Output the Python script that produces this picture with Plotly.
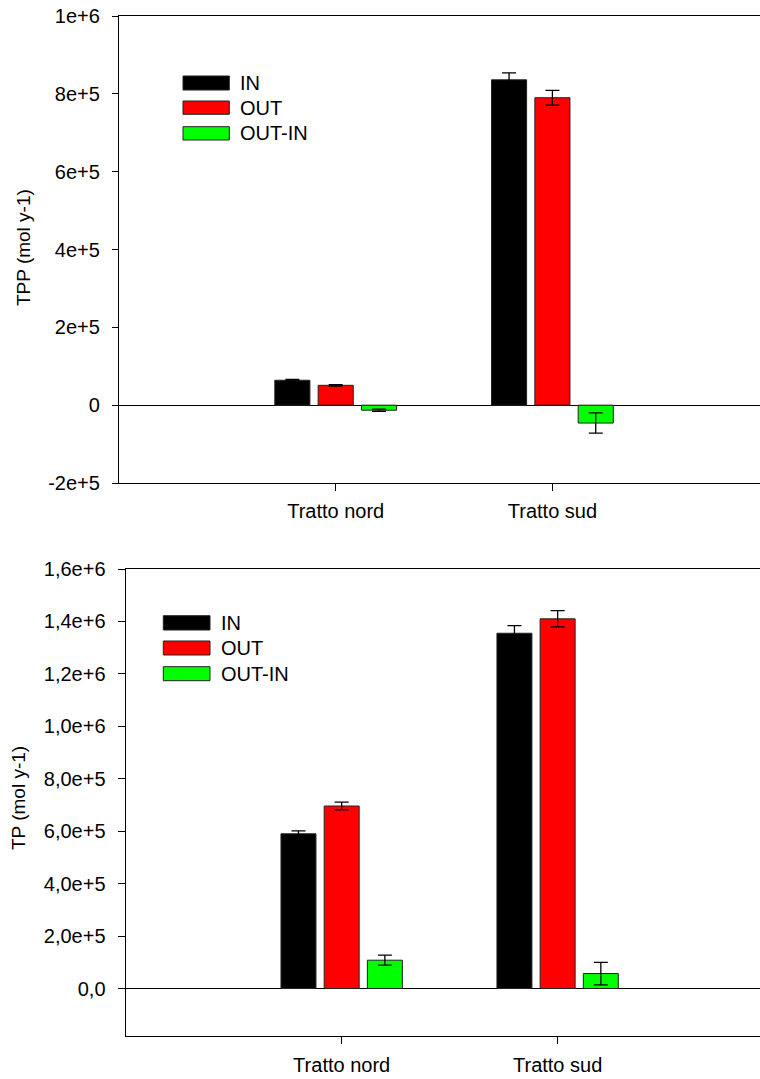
import plotly.graph_objects as go

# ---------------- data ----------------
categories = ["Tratto nord", "Tratto sud"]
series_names = ["IN", "OUT", "OUT-IN"]
series_colors = ["#000000", "#FF0000", "#00FF00"]

# Top panel: TPP (mol y-1)
tpp_in = [64000, 836000]
tpp_in_err = [2000, 18000]
tpp_out = [51000, 790000]
tpp_out_err = [2000, 19000]
tpp_diff = [-13000, -46000]
tpp_diff_err = [3000, 26000]

# Bottom panel: TP (mol y-1)
tp_in = [590000, 1355000]
tp_in_err = [11000, 29000]
tp_out = [696000, 1410000]
tp_out_err = [15000, 31000]
tp_diff = [108000, 57000]
tp_diff_err = [19000, 43000]

top_tickvals = [-200000, 0, 200000, 400000, 600000, 800000, 1000000]
top_ticktext = ["-2e+5", "0", "2e+5", "4e+5", "6e+5", "8e+5", "1e+6"]
bot_tickvals = [0, 200000, 400000, 600000, 800000, 1000000, 1200000, 1400000, 1600000]
bot_ticktext = ["0,0", "2,0e+5", "4,0e+5", "6,0e+5", "8,0e+5", "1,0e+6", "1,2e+6", "1,4e+6", "1,6e+6"]

top_title = "TPP (mol y-1)"
bot_title = "TP (mol y-1)"

# ---------------- figure ----------------
W, H = 760, 1079
FONT = "Liberation Sans, Arial, sans-serif"

def px(x):
    return x / W

def py(y):
    return 1 - y / H

fig = go.Figure()

top_sets = [(tpp_in, tpp_in_err), (tpp_out, tpp_out_err), (tpp_diff, tpp_diff_err)]
bot_sets = [(tp_in, tp_in_err), (tp_out, tp_out_err), (tp_diff, tp_diff_err)]

for sets, xa, ya in [(top_sets, "x", "y"), (bot_sets, "x2", "y2")]:
    for (vals, errs), name, col in zip(sets, series_names, series_colors):
        fig.add_trace(go.Bar(
            x=categories, y=vals, name=name, xaxis=xa, yaxis=ya,
            marker=dict(color=col, line=dict(color="#222222", width=1)),
            error_y=dict(type="data", array=errs, visible=True,
                         color="#000000", thickness=1.3, width=7),
            showlegend=False,
        ))

axis_common = dict(
    showline=True, linecolor="black", linewidth=1.3,
    ticks="outside", tickcolor="black", tickwidth=1.3,
    showgrid=False, automargin=False,
    tickfont=dict(family=FONT, size=20, color="black"),
)

fig.update_layout(
    width=W, height=H,
    margin=dict(l=0, r=0, t=0, b=0),
    paper_bgcolor="white", plot_bgcolor="white",
    barmode="group", bargap=0.4, bargroupgap=0.19,
    font=dict(family=FONT, size=20, color="black"),
    xaxis=dict(domain=[px(119), 1], anchor="y", type="category",
               range=[-1, 1.958], mirror=True, ticklen=7,
               ticklabelstandoff=3, **axis_common),
    yaxis=dict(domain=[py(483), py(16)], anchor="x",
               range=[-200000, 1000000], tickvals=top_tickvals,
               ticktext=top_ticktext, ticklen=6, ticklabelstandoff=8,
               zeroline=True, zerolinecolor="black", zerolinewidth=1.3,
               **axis_common),
    xaxis2=dict(domain=[px(125.7), 1], anchor="y2", type="category",
                range=[-1, 1.937], mirror=True, ticklen=7,
                ticklabelstandoff=4, **axis_common),
    yaxis2=dict(domain=[py(1035.7), py(569)], anchor="x2",
                range=[-180000, 1600000], tickvals=bot_tickvals,
                ticktext=bot_ticktext, ticklen=7, ticklabelstandoff=8,
                zeroline=True, zerolinecolor="black", zerolinewidth=1.3,
                **axis_common),
)

# axis titles
fig.add_annotation(text=top_title, x=px(23.5), y=py(247.5), xref="paper", yref="paper",
                   textangle=-90, showarrow=False, xanchor="center", yanchor="middle",
                   font=dict(family=FONT, size=19, color="black"))
fig.add_annotation(text=bot_title, x=px(18), y=py(798), xref="paper", yref="paper",
                   textangle=-90, showarrow=False, xanchor="center", yanchor="middle",
                   font=dict(family=FONT, size=19, color="black"))

# legends (drawn as key boxes + labels)
legend_specs = [
    dict(x0=183, x1=229.3, tx=238, rows=[(76, 90), (101, 114.3), (126.7, 140)]),
    dict(x0=163.3, x1=210, tx=219, rows=[(615.7, 630), (641, 655), (666.7, 680.7)]),
]
for spec in legend_specs:
    for (y0, y1), name, col in zip(spec["rows"], series_names, series_colors):
        fig.add_shape(type="rect", xref="paper", yref="paper",
                      x0=px(spec["x0"]), x1=px(spec["x1"]), y0=py(y1), y1=py(y0),
                      fillcolor=col, line=dict(color="#222222", width=1))
        fig.add_annotation(text=name, x=px(spec["tx"]), y=py((y0 + y1) / 2),
                           xref="paper", yref="paper", showarrow=False,
                           xanchor="left", yanchor="middle",
                           font=dict(family=FONT, size=20, color="black"))

fig.write_html("out.html", config={"displayModeBar": False},
               post_script="document.body.style.margin='0px';document.body.style.overflow='hidden';")
